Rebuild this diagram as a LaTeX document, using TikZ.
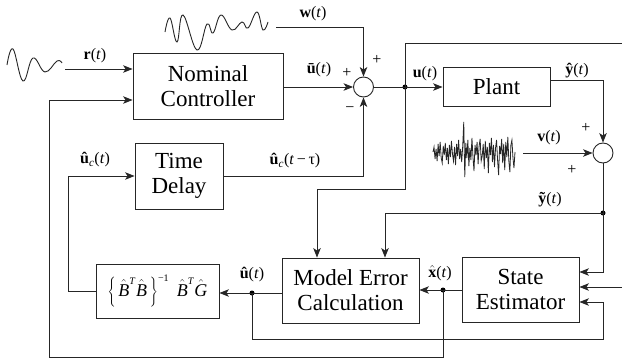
\documentclass[tikz,border=0pt]{standalone}
\usepackage{fontspec}
\setmainfont{Liberation Serif}
\usetikzlibrary{arrows.meta,calc}
\newcommand{\hB}{\hat{\mbox{\textit{B}}}}
\newcommand{\tallrule}{\rule[-9pt]{0pt}{25pt}}
\begin{document}
\begin{tikzpicture}[x=1pt,y=-1pt,
  ln/.style={line width=0.9pt, draw=black!85},
  arr/.style={ln, -{Stealth[length=9.5pt,width=7.5pt,inset=2.5pt]}},
  blk/.style={draw=black!85, line width=0.9pt, inner sep=0pt, align=center, font=\fontsize{23}{25}\selectfont},
  sumnode/.style={draw=black!85, line width=0.9pt, circle, minimum size=20pt, inner sep=0pt},
  dotnode/.style={circle, fill=black, minimum size=5pt, inner sep=0pt},
  lbl/.style={font=\fontsize{16}{18}\selectfont, inner sep=0pt},
  sgn/.style={font=\fontsize{16}{18}\selectfont, inner sep=0pt},
  wave/.style={line width=0.9pt, draw=black!85}
]
\useasboundingbox (0,0) rectangle (622,364);

% blocks
\node[blk, minimum width=150pt, minimum height=66pt] (NC) at (208,86) {Nominal\\Controller};
\node[blk, minimum width=88pt, minimum height=66pt] (TD) at (179,176) {Time\\Delay};
\node[blk, minimum width=123pt, minimum height=54pt, font=\fontsize{18}{20}\selectfont] (GB) at (157.5,291)
  {$\left\{\tallrule\,\hB^{\mbox{\fontsize{10}{10}\selectfont\textit{T}}}\hB\,\right\}^{\mbox{\fontsize{10}{10}\selectfont −1}}\;\hB^{\mbox{\fontsize{10}{10}\selectfont\textit{T}}}\hat{\mbox{\textit{G}}}$};
\node[blk, minimum width=137pt, minimum height=65pt] (ME) at (350.5,290.5) {Model Error\\Calculation};
\node[blk, minimum width=117pt, minimum height=65pt] (SE) at (520.5,289.5) {State\\Estimator};
\node[blk, minimum width=107pt, minimum height=39pt] (PL) at (496.5,86.5) {Plant};
\node[sumnode] (S1) at (363.5,87) {};
\node[sumnode] (S2) at (603,153) {};

% junction dots
\node[dotnode] (D1) at (405,87) {};
\node[dotnode] (D2) at (252,293) {};
\node[dotnode] (D3) at (443,290) {};
\node[dotnode] (D4) at (603,213) {};

% free ends / corners
\coordinate (rs) at (65,69);
\coordinate (ws) at (276,27);
\coordinate (vs) at (523,153);
\coordinate (fbB) at (49,357);
\coordinate (fbT) at (49,100);
\coordinate (eT) at (622,43);
\coordinate (eM) at (622,287);
\coordinate (uL) at (317,189);
\coordinate (lpR) at (603,339);
\coordinate (gL) at (68,291);

% signal waves
\draw[wave] plot[smooth, tension=0.7] coordinates {(7,65) (13,49) (23,81) (33,58) (45,72) (57,61) (62,63)};
\draw[wave] plot[smooth, tension=0.7] coordinates {(165,32) (170,18) (177,42) (183,15) (197,50) (207,24) (213,33) (221,15) (232,30) (242,22) (248,28) (257,12) (263,30) (268,22)};
\draw[wave, line width=0.8pt] (433,152)
  \foreach \d [count=\i from 1] in {-5,7,-3,9,-8,4,-10,6,11,-6,3,-9,8,-4,12,-7,5,-11,2,9,-5,13,-8,4,-12,7,-3,10,-6,-30,25,-9,6,-12,14,-4,8,-14,5,19,-7,3,-10,12,-6,-13,9,4,-8,17,-11,6,-5,21,-9,3,-14,10,-7,15,-4,-12,8,23,-6,2,-13,11,-8,18,-10,5,-15,9,20,-7,-12,6,16,0}
  { -- ({433+\i*1.025},{152+\d}) };

% connectors
\draw[arr] (rs) -- (rs -| NC.west);
\draw[arr] (D3.center) |- (fbB) -- (fbT) -- (fbT -| NC.west);
\draw[arr] (ws) -| (S1.north);
\draw[arr] (NC.east |- S1) -- (S1.west);
\draw[arr] (TD.east) -| (S1.south);
\draw[arr] (S1.east) -- (PL.west |- S1);
\draw[ln] (D1.center) |- (eT);
\draw[arr] (D1.center) |- (uL) -- (uL |- ME.north);
\draw[arr] ($(PL.east)+(0,-6.5)$) -| (S2.north);
\draw[arr] (vs) -- (S2.west);
\draw[arr] (S2.south) |- ($(SE.east)+(0,-17.5)$);
\draw[arr] (D4.center) -| ($(ME.north)+(34.5,0)$);
\draw[arr] (eM) -- (eM -| SE.east);
\draw[arr] (ME.west |- D2) -- (GB.east |- D2);
\draw[arr] (D2.center) |- (lpR) |- ($(SE.east)+(0,12.5)$);
\draw[arr] (SE.west |- D3) -- (ME.east |- D3);
\draw[arr] (GB.west) -- (gL) |- (TD.west);

% labels
\node[lbl] at (95,56) {\textbf{r}(\textit{t})};
\node[lbl] at (313,14) {\textbf{w}(\textit{t})};
\node[lbl] at (319,70) {\textbf{\={u}}(\textit{t})};
\node[sgn] at (347,73) {+};
\node[sgn] at (377,60) {+};
\node[sgn] at (350,110) {−};
\node[lbl] at (295,161) {\textbf{\^{u}}\textsubscript{\textit{c}}(\textit{t}\,−\,τ)};
\node[lbl] at (425,74) {\textbf{u}(\textit{t})};
\node[lbl] at (577,71) {\textbf{\^{y}}(\textit{t})};
\node[sgn] at (586,128) {+};
\node[lbl] at (549,138) {\textbf{v}(\textit{t})};
\node[sgn] at (572,170) {+};
\node[lbl] at (550,200) {\textbf{\~{y}}(\textit{t})};
\node[lbl] at (440,273) {$\hat{\mbox{\textbf{x}}}$(\textit{t})};
\node[lbl] at (252,275) {\textbf{\^{u}}(\textit{t})};
\node[lbl] at (95,160) {\textbf{\^{u}}\textsubscript{\textit{c}}(\textit{t})};
\end{tikzpicture}
\end{document}
